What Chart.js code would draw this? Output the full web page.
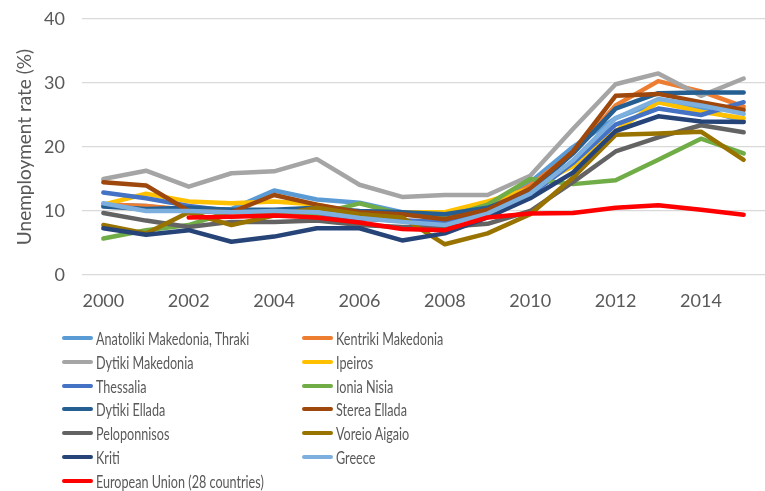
<!DOCTYPE html>
<html>
<head>
<meta charset="utf-8">
<script src="https://cdn.jsdelivr.net/npm/chart.js@4.4.1/dist/chart.umd.min.js"></script>
<style>
  body { margin: 0; background: #fff; width: 765px; height: 491px; overflow: hidden; font-family: Lato, sans-serif; }
  #wrap { position: absolute; left: 0; top: 0; width: 765px; height: 310px; }
  #legend { position: absolute; left: 0; top: 0; width: 765px; height: 491px; pointer-events: none; }
  .item { position: absolute; height: 24px; display: flex; align-items: center; }
  .swatch { width: 31px; height: 4px; border-radius: 2px; }
  .label { font-size: 18px; color: #595959; white-space: nowrap; margin-left: 3px; transform-origin: left center; transform: scaleX(0.7); }
</style>
</head>
<body>
<div id="wrap"><canvas id="lineChart"></canvas></div>
<div id="legend"></div>
<script>
const years = ['2000','2001','2002','2003','2004','2005','2006','2007','2008','2009','2010','2011','2012','2013','2014','2015'];

const anatoliki = [11.0, 10.8, 10.0, 10.3, 13.2, 11.8, 11.3, 9.8, 9.0, 11.0, 14.5, 20.0, 24.5, 27.0, 26.0, 24.0];
const kentriki  = [11.0, 10.8, 10.2, 9.8, 9.5, 9.2, 8.8, 8.5, 8.2, 10.3, 14.0, 19.0, 26.5, 30.3, 28.7, 26.3];
const dytikiMak = [15.0, 16.3, 13.8, 15.9, 16.2, 18.1, 14.1, 12.2, 12.5, 12.5, 15.5, 22.8, 29.8, 31.5, 28.0, 30.7];
const ipeiros   = [11.0, 12.7, 11.5, 11.2, 11.5, 11.0, 9.6, 9.8, 9.8, 11.5, 13.5, 17.0, 22.5, 27.0, 25.5, 24.5];
const thessalia = [12.9, 12.0, 10.8, 10.0, 9.8, 9.5, 8.8, 8.5, 8.3, 9.8, 12.5, 17.5, 23.5, 26.0, 25.0, 27.0];
const ionia     = [5.7, 7.0, 7.8, 10.0, 9.5, 9.5, 11.2, 9.5, 9.0, 11.0, 15.0, 14.2, 14.8, 18.0, 21.3, 19.0];
const dytikiEll = [10.7, 10.3, 10.5, 10.2, 10.2, 10.5, 10.0, 9.8, 9.5, 10.5, 13.0, 19.0, 26.0, 28.4, 28.5, 28.5];
const sterea    = [14.5, 14.0, 10.0, 9.8, 12.5, 11.0, 9.8, 9.5, 8.7, 10.2, 13.5, 19.3, 28.0, 28.3, 27.0, 25.8];
const pelop     = [9.7, 8.5, 7.5, 8.3, 8.3, 8.5, 7.8, 7.5, 7.5, 8.0, 10.0, 14.5, 19.3, 21.5, 23.4, 22.3];
const voreio    = [7.8, 6.5, 9.8, 7.8, 9.3, 10.5, 9.5, 9.0, 4.8, 6.5, 9.5, 15.2, 21.9, 22.1, 22.4, 18.0];
const kriti     = [7.3, 6.3, 7.0, 5.2, 6.0, 7.3, 7.3, 5.4, 6.5, 9.0, 12.0, 16.0, 22.5, 24.8, 24.0, 23.9];
const greece    = [11.2, 10.0, 10.0, 9.8, 10.0, 9.8, 8.9, 8.3, 7.8, 9.6, 12.7, 17.9, 24.5, 27.5, 26.5, 25.2];
const eu28      = [null, null, 9.0, 9.1, 9.3, 9.0, 8.2, 7.2, 7.0, 9.0, 9.6, 9.7, 10.5, 10.9, 10.2, 9.4];

const seriesNames = ['Anatoliki Makedonia, Thraki', 'Kentriki Makedonia', 'Dytiki Makedonia', 'Ipeiros',
  'Thessalia', 'Ionia Nisia', 'Dytiki Ellada', 'Sterea Ellada', 'Peloponnisos', 'Voreio Aigaio',
  'Kriti', 'Greece', 'European Union (28 countries)'];
const seriesData = [anatoliki, kentriki, dytikiMak, ipeiros, thessalia, ionia, dytikiEll, sterea,
  pelop, voreio, kriti, greece, eu28];
const colors = ['#5B9BD5', '#ED7D31', '#A5A5A5', '#FFC000', '#4472C4', '#70AD47', '#255E91',
  '#9E480E', '#636363', '#997300', '#264478', '#7CAFDD', '#FF0000'];

const datasets = seriesNames.map((name, i) => ({
  label: name,
  data: seriesData[i],
  borderColor: colors[i],
  backgroundColor: colors[i],
  borderWidth: 4.5,
  pointRadius: 0,
  tension: 0,
  fill: false,
  borderJoinStyle: 'round',
  borderCapStyle: 'round',
  order: seriesNames.length - i   // first series at the bottom, like Excel
}));

const ctx = document.getElementById('lineChart').getContext('2d');

new Chart(ctx, {
  type: 'line',
  data: { labels: years, datasets: datasets },
  options: {
    responsive: true,
    maintainAspectRatio: false,
    animation: false,
    layout: { padding: { top: 19, bottom: 0, left: 0, right: 0 } },
    plugins: {
      legend: { display: false },
      tooltip: { enabled: false }
    },
    scales: {
      x: {
        offset: true,
        grid: { display: false, drawTicks: false },
        border: { display: false },
        ticks: {
          autoSkip: false,
          maxRotation: 0,
          padding: 15,
          color: '#595959',
          font: { family: 'Lato', size: 18 },
          callback: (v, i) => (i % 2 === 0 ? years[i] : '')
        },
        afterFit: scale => { scale.height = 35; }
      },
      y: {
        min: 0,
        max: 40,
        grid: { color: '#D9D9D9', lineWidth: 1.3, drawTicks: false },
        border: { display: false },
        ticks: {
          stepSize: 10,
          padding: 17,
          color: '#595959',
          font: { family: 'Lato', size: 18 }
        },
        title: {
          display: true,
          text: 'Unemployment rate (%)',
          color: '#595959',
          font: { family: 'Lato', size: 19 },
          padding: { top: 13, bottom: 0 }
        },
        afterFit: scale => {
          scale.width = 82;
          scale.paddingTop = 10;
          scale.paddingBottom = 10;
        }
      }
    }
  }
});

// legend in two columns below the plot
const legend = document.getElementById('legend');
seriesNames.forEach((name, i) => {
  const row = Math.floor(i / 2);
  const col = i % 2;
  const item = document.createElement('div');
  item.className = 'item';
  item.style.left = (col === 0 ? 62 : 302) + 'px';
  item.style.top = (338 + row * 23.8 - 12) + 'px';
  const sw = document.createElement('div');
  sw.className = 'swatch';
  sw.style.background = colors[i];
  const lb = document.createElement('span');
  lb.className = 'label';
  lb.textContent = name;
  item.appendChild(sw);
  item.appendChild(lb);
  legend.appendChild(item);
});
</script>
</body>
</html>
